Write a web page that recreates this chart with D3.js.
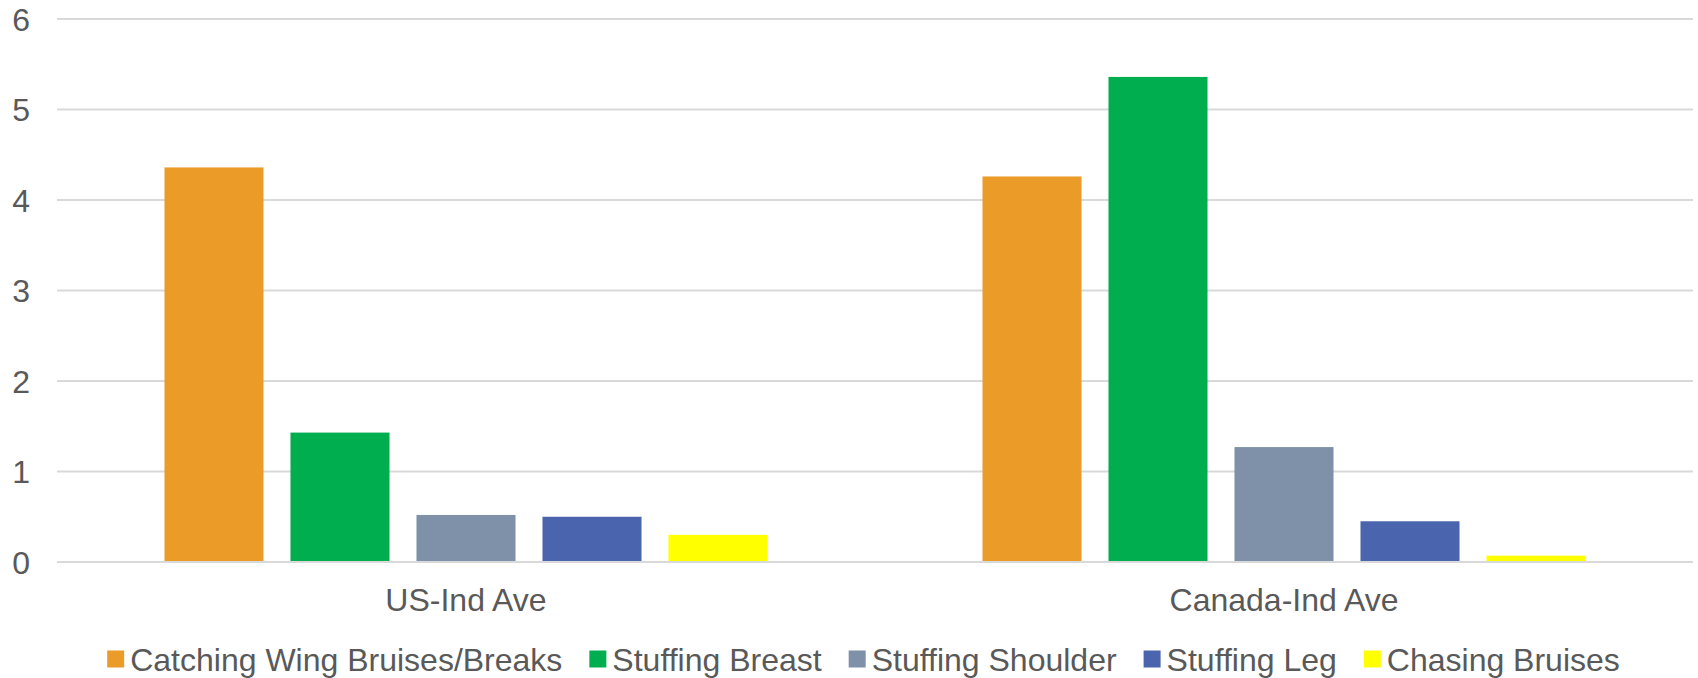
<!DOCTYPE html>
<html>
<head>
<meta charset="utf-8">
<script src="https://cdn.jsdelivr.net/npm/d3@7"></script>
<style>
  body { margin: 0; background: #fff; }
  svg { display: block; font-family: 'Liberation Sans', Arial, sans-serif; }
</style>
</head>
<body>
<div id="chart"></div>
<script>
const categories = ['US-Ind Ave', 'Canada-Ind Ave']
const seriesNames = ['Catching Wing Bruises/Breaks', 'Stuffing Breast', 'Stuffing Shoulder', 'Stuffing Leg', 'Chasing Bruises']
const usValues = [4.36, 1.43, 0.52, 0.50, 0.30]
const canadaValues = [4.26, 5.36, 1.27, 0.45, 0.07]
const yTicks = [0, 1, 2, 3, 4, 5, 6]
const colors = ['#EB9B28', '#00AE4F', '#7F90A9', '#4A65AE', '#FFFF00']

const width = 1698
const height = 678
const plotLeft = 57, plotRight = 1693, plotTop = 19, plotBottom = 562
const textColor = '#595959'

const rows = [usValues, canadaValues]

var svg = d3.select('#chart').append('svg')
  .attr('width', width)
  .attr('height', height)

var y = d3.scaleLinear()
  .domain([0, 6])
  .range([plotBottom, plotTop])

var x0 = d3.scaleBand()
  .domain(categories)
  .range([plotLeft, plotRight])

var x1 = d3.scaleBand()
  .domain(seriesNames)
  .range([0, x0.bandwidth()])
  .paddingInner(0.214)
  .paddingOuter(0.853)

// gridlines
svg.append('g')
  .selectAll('line')
  .data(yTicks)
  .enter()
  .append('line')
  .attr('x1', plotLeft)
  .attr('x2', plotRight)
  .attr('y1', d => y(d))
  .attr('y2', d => y(d))
  .style('stroke', '#d9d9d9')
  .style('stroke-width', 2)

// y labels
svg.append('g')
  .selectAll('text')
  .data(yTicks)
  .enter()
  .append('text')
  .attr('x', 30)
  .attr('y', d => y(d))
  .attr('dy', '0.36em')
  .attr('text-anchor', 'end')
  .style('font-size', '32px')
  .style('fill', textColor)
  .text(d => d)

// bars
var groups = svg.selectAll('.grp')
  .data(categories)
  .enter()
  .append('g')
  .attr('class', 'grp')
  .attr('transform', d => 'translate(' + x0(d) + ',0)')

groups.selectAll('rect')
  .data((d, i) => rows[i].map((v, j) => ({ name: seriesNames[j], value: v, color: colors[j] })))
  .enter()
  .append('rect')
  .attr('x', d => x1(d.name))
  .attr('width', x1.bandwidth())
  .attr('y', d => y(d.value))
  .attr('height', d => y(0) - y(d.value))
  .style('fill', d => d.color)

// baseline over bars
svg.append('line')
  .attr('x1', plotLeft)
  .attr('x2', plotRight)
  .attr('y1', y(0))
  .attr('y2', y(0))
  .style('stroke', '#d9d9d9')
  .style('stroke-width', 2)

// category labels
svg.append('g')
  .selectAll('text')
  .data(categories)
  .enter()
  .append('text')
  .attr('x', d => x0(d) + x0.bandwidth() / 2)
  .attr('y', 611)
  .attr('text-anchor', 'middle')
  .style('font-size', '32px')
  .style('fill', textColor)
  .text(d => d)

// legend
var legend = svg.append('g')
var lx = 0
var sq = 17, gap = 6, itemGap = 27
seriesNames.forEach((name, i) => {
  let item = legend.append('g').attr('transform', 'translate(' + lx + ',0)')
  item.append('rect')
    .attr('x', 0)
    .attr('y', -sq / 2)
    .attr('width', sq)
    .attr('height', sq)
    .style('fill', colors[i])
  let t = item.append('text')
    .attr('x', sq + gap)
    .attr('dy', '0.36em')
    .style('font-size', '32px')
    .style('fill', textColor)
    .text(name)
  lx += sq + gap + t.node().getComputedTextLength() + itemGap
})
lx -= itemGap
legend.attr('transform', 'translate(' + (863.5 - lx / 2) + ',659)')
</script>
</body>
</html>
